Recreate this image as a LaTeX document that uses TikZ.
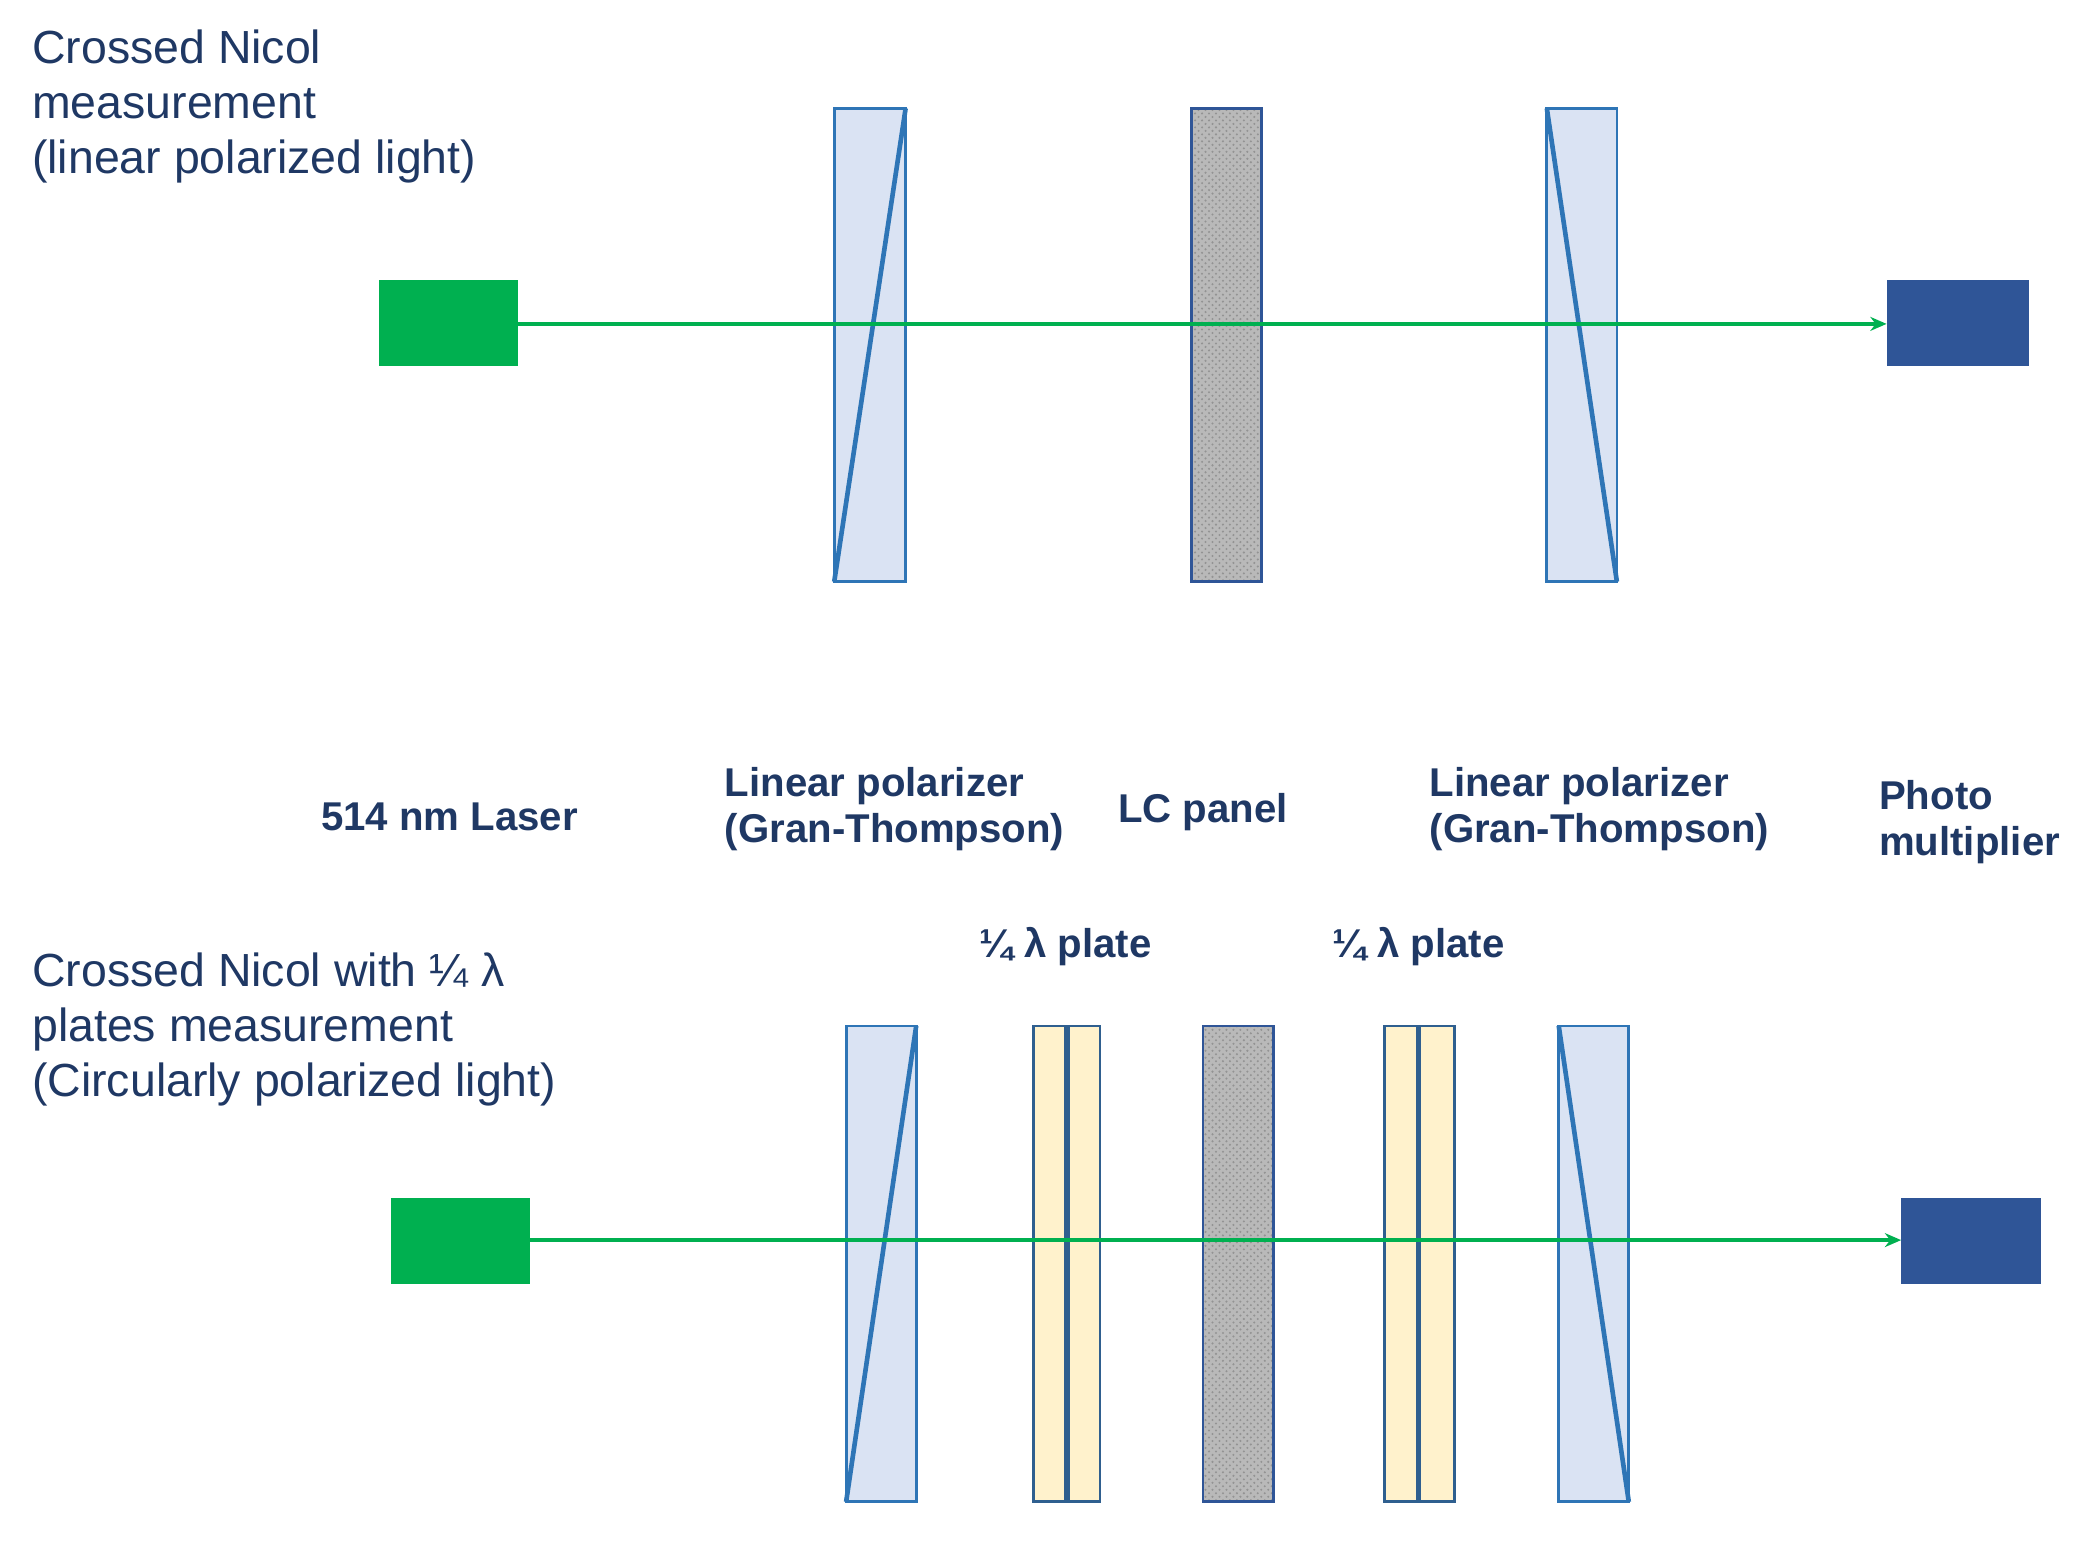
\documentclass[tikz,border=0pt]{standalone}
\usepackage{fontspec}
\setmainfont{Liberation Sans}
\usetikzlibrary{patterns,arrows.meta}
\definecolor{navy}{HTML}{1F3864}
\definecolor{polfill}{HTML}{DAE3F3}
\definecolor{poledge}{HTML}{2E75B6}
\definecolor{lcedge}{HTML}{2F5597}
\definecolor{qfill}{HTML}{FFF2CC}
\definecolor{qline}{HTML}{2F5F8F}
\definecolor{beam}{HTML}{00B050}
\definecolor{det}{HTML}{2F5597}
\begin{document}
\begin{tikzpicture}[x=0.02cm,y=-0.02cm,
  pol/.style={draw=poledge,fill=polfill,line width=1.2pt},
  diag/.style={draw=poledge,line width=2pt},
  lc/.style={draw=lcedge,line width=1.2pt,fill=gray!55},
  qp/.style={draw=qline,fill=qfill,line width=1.2pt},
  qc/.style={draw=qline,line width=2.4pt},
  beamst/.style={draw=beam,line width=2pt,-{Stealth[length=7pt,width=6pt]}},
  big/.style={font=\fontsize{20}{23.8}\selectfont,text=navy,align=left,anchor=north west,inner sep=0pt},
  lab/.style={font=\bfseries\fontsize{17.3}{19.8}\selectfont,text=navy,align=left,inner sep=0pt}]
\useasboundingbox (0,0) rectangle (1568,1169);
% top row
\node[big] (t1) at (24,22) {Crossed Nicol\\measurement\\(linear polarized light)};
\fill[beam] (287,212) rectangle (392,277);
\coordinate (ls1) at (392,245);
\draw[pol] (631,82) rectangle (685,440);
\draw[diag] (631,440) -- (685,82);
\fill[gray!55] (901,82) rectangle (954,440);
\fill[pattern=crosshatch dots,pattern color=gray!85] (901,82) rectangle (954,440);
\draw[draw=lcedge,line width=1.2pt] (901,82) rectangle (954,440);
\draw[pol] (1170,82) rectangle (1223,440);
\draw[diag] (1170,82) -- (1223,440);
\fill[det] (1427,212) rectangle (1535,277);
\coordinate (d1) at (1427,245);
\draw[beamst] (ls1) -- (d1);
% labels
\node[lab] (l1) at (340,618) {514 nm Laser};
\node[lab,anchor=west] (l2) at (548,612) {Linear polarizer\\(Gran-Thompson)};
\node[lab] (l3) at (910,614) {LC panel};
\node[lab,anchor=west] (l4) at (1081,612) {Linear polarizer\\(Gran-Thompson)};
\node[lab,anchor=west] (l5) at (1421,622) {Photo\\multiplier};
\node[lab] (q1) at (806,716) {¼ λ plate};
\node[lab] (q2) at (1073,716) {¼ λ plate};
% bottom row
\node[big] (t2) at (24,720) {Crossed Nicol with ¼ λ\\plates measurement\\(Circularly polarized light)};
\fill[beam] (296,906) rectangle (401,971);
\coordinate (ls2) at (401,938);
\draw[pol] (640,776) rectangle (693,1136);
\draw[diag] (640,1136) -- (693,776);
\draw[qp] (782,776) rectangle (832,1136);
\draw[qc] (807,776) -- (807,1136);
\fill[gray!55] (910,776) rectangle (963,1136);
\fill[pattern=crosshatch dots,pattern color=gray!85] (910,776) rectangle (963,1136);
\draw[draw=lcedge,line width=1.2pt] (910,776) rectangle (963,1136);
\draw[qp] (1047,776) rectangle (1100,1136);
\draw[qc] (1073,776) -- (1073,1136);
\draw[pol] (1179,776) rectangle (1232,1136);
\draw[diag] (1179,776) -- (1232,1136);
\fill[det] (1438,906) rectangle (1544,971);
\coordinate (d2) at (1438,938);
\draw[beamst] (ls2) -- (d2);
\end{tikzpicture}
\end{document}
